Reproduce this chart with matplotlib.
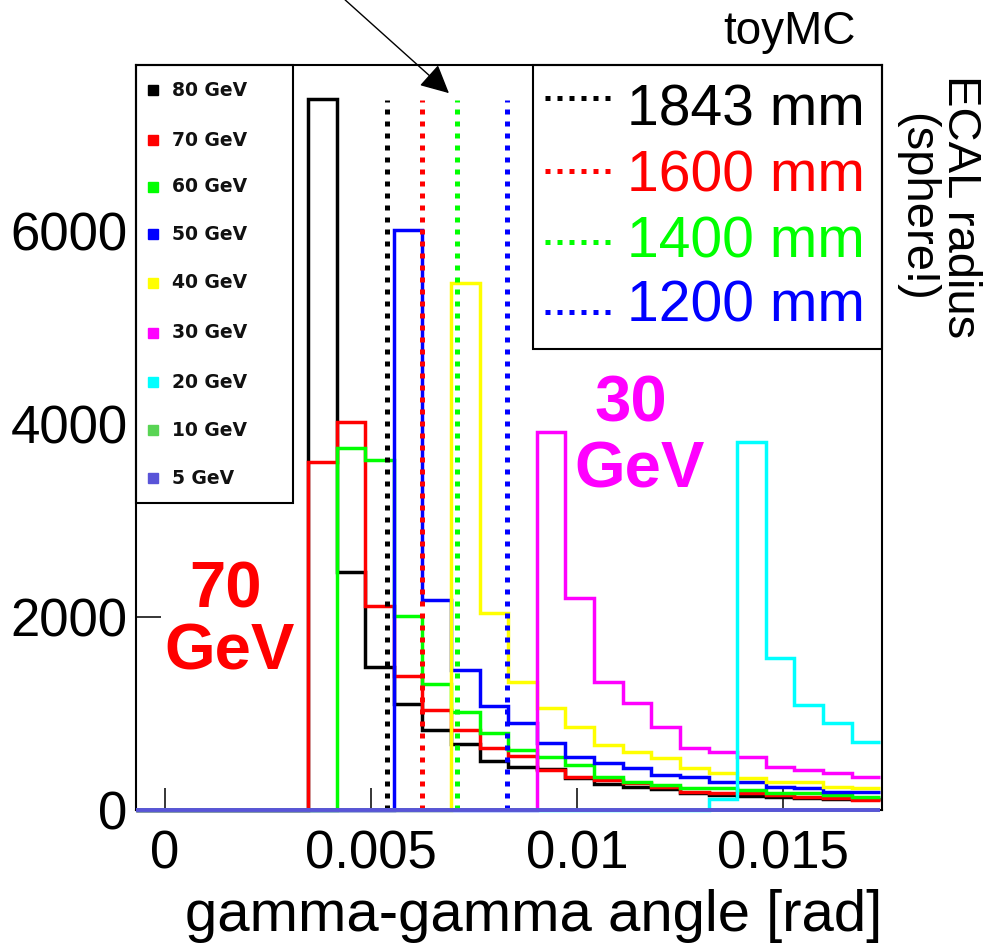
import numpy as np
import matplotlib
matplotlib.use("Agg")
import matplotlib.pyplot as plt
from matplotlib.patches import Rectangle, FancyArrowPatch
from matplotlib.lines import Line2D

# ---------------- data ----------------
BIN_W = 0.025 / 36
bin_edges = np.arange(-1, 26) * BIN_W

energy_labels = ["80 GeV", "70 GeV", "60 GeV", "50 GeV", "40 GeV",
                 "30 GeV", "20 GeV", "10 GeV", "5 GeV"]
energy_colors = ["#000000", "#ff0000", "#00ff00", "#0000ff", "#ffff00",
                 "#ff00ff", "#00ffff", "#59d454", "#5954d8"]

counts_80 = [0, 0, 0, 0, 0, 0, 7368, 2466, 1482, 1098, 829, 684, 508, 446, 430,
             332, 270, 238, 218, 176, 155, 145, 135, 125, 115, 115]
counts_70 = [0, 0, 0, 0, 0, 0, 3606, 4020, 2114, 1389, 1036, 829, 642, 560, 415,
             342, 311, 280, 238, 187, 176, 176, 155, 135, 125, 104]
counts_60 = [0, 0, 0, 0, 0, 0, 0, 3751, 3627, 2010, 1306, 1016, 798, 622, 550,
             466, 342, 290, 259, 228, 228, 207, 176, 176, 155, 135]
counts_50 = [0, 0, 0, 0, 0, 0, 0, 0, 0, 6010, 2176, 1451, 1078, 902, 694,
             549, 487, 435, 363, 342, 290, 290, 238, 228, 187, 187]
counts_40 = [0, 0, 0, 0, 0, 0, 0, 0, 0, 0, 0, 5461, 2041, 1326, 1060,
             860, 674, 601, 539, 435, 383, 332, 290, 290, 238, 228]
counts_30 = [0, 0, 0, 0, 0, 0, 0, 0, 0, 0, 0, 0, 0, 0, 3917,
             2197, 1326, 1109, 860, 642, 601, 549, 446, 415, 383, 342]
counts_20 = [0, 0, 0, 0, 0, 0, 0, 0, 0, 0, 0, 0, 0, 0, 0,
             0, 0, 0, 0, 0, 114, 3813, 1575, 1088, 902, 705]
counts_10 = [0, 0, 0, 0, 0, 0, 0, 0, 0, 0, 0, 0, 0, 0, 0,
             0, 0, 0, 0, 0, 0, 0, 0, 0, 0, 0]
counts_5 = [0, 0, 0, 0, 0, 0, 0, 0, 0, 0, 0, 0, 0, 0, 0,
            0, 0, 0, 0, 0, 0, 0, 0, 0, 0, 0]
all_counts = [counts_80, counts_70, counts_60, counts_50, counts_40,
              counts_30, counts_20, counts_10, counts_5]

radius_labels = ["1843 mm", "1600 mm", "1400 mm", "1200 mm"]
radius_colors = ["#000000", "#ff0000", "#00ff00", "#0000ff"]
radius_angles = [0.00539, 0.00623, 0.00710, 0.00831]
radius_line_top = 7360

x_ticks = [0, 0.005, 0.01, 0.015]
x_tick_labels = ["0", "0.005", "0.01", "0.015"]
y_ticks = [0, 2000, 4000, 6000]
y_tick_labels = ["0", "2000", "4000", "6000"]

# ---------------- figure ----------------
FW, FH = 996, 947
fig = plt.figure(figsize=(FW / 100, FH / 100), dpi=100)
plt.rcParams['font.family'] = ['Liberation Sans', 'DejaVu Sans']


def fx(px):
    return px / FW


def fy(py):
    return 1 - py / FH


ax = fig.add_axes([fx(136), fy(810), (882 - 136) / FW, (810 - 65) / FH])
ax.set_xlim(-0.0007, 0.017403)
ax.set_ylim(0, 7720)

for cnt, col in zip(all_counts, energy_colors):
    is_flat = max(cnt) == 0
    ax.stairs(cnt, bin_edges, baseline=None, color=col,
              lw=2.8 if is_flat else 2.5,
              clip_on=False, zorder=2.7 if is_flat else 2)

dot_style = (0, (1, 1.4))
for xa, col in zip(radius_angles, radius_colors):
    ax.plot([xa, xa], [0, radius_line_top], color=col, lw=3.6,
            ls=dot_style, dash_capstyle='butt', zorder=2.1)

for s in ax.spines.values():
    s.set_linewidth(1.5)
    s.set_color("black")

ax.set_xticks(x_ticks)
ax.set_xticklabels(x_tick_labels)
ax.set_yticks(y_ticks)
ax.set_yticklabels(y_tick_labels)
ax.tick_params(axis='x', direction='in', length=16, width=1.1, labelsize=38,
               pad=14)
ax.tick_params(axis='y', direction='in', length=18, width=1.1, labelsize=38,
               pad=6)
ax.minorticks_off()

fig.text(fx(882), fy(916), "gamma-gamma angle [rad]", ha='right', va='center',
         fontsize=41.8)

# left legend (energies)
ax.add_patch(Rectangle((fx(136), fy(503)), fx(293) - fx(136), fy(65) - fy(503),
                       transform=fig.transFigure, facecolor='white',
                       edgecolor='black', lw=1.5, zorder=2.2, clip_on=False))
leg_rows = [90, 140, 187, 234, 283, 333, 382, 430, 478]
for lab, col, yy in zip(energy_labels, energy_colors, leg_rows):
    fig.add_artist(Line2D([fx(153)], [fy(yy)], marker='s', markersize=6.5,
                          color=col, lw=0))
    fig.text(fx(172), fy(yy), lab, ha='left', va='center', fontsize=13.5,
             fontweight='bold', family='DejaVu Sans', color='#111111')

# right legend (radii)
ax.add_patch(Rectangle((fx(533), fy(349)), fx(882) - fx(533), fy(65) - fy(349),
                       transform=fig.transFigure, facecolor='white',
                       edgecolor='black', lw=1.5, zorder=2.2, clip_on=False))
sample_rows = [98, 171, 242, 312]
text_rows = [111, 177, 242, 307]
for lab, col, ys, yt in zip(radius_labels, radius_colors, sample_rows, text_rows):
    fig.add_artist(Line2D([fx(545), fx(614)], [fy(ys), fy(ys)], color=col,
                          lw=3.6, ls=dot_style, dash_capstyle='butt'))
    fig.text(fx(627), fy(yt), lab, ha='left', va='center', fontsize=41,
             color=col)

fig.text(fx(960), fy(207), "ECAL radius", rotation=-90, ha='center',
         va='center', fontsize=34)
fig.text(fx(916), fy(207), "(sphere!)", rotation=-90, ha='center',
         va='center', fontsize=34)
fig.text(fx(789), fy(32), "toyMC", ha='center', va='center', fontsize=33)

fig.text(fx(225), fy(590), "70", ha='center', va='center', fontsize=47,
         fontweight='bold', color='#ff0000')
fig.text(fx(230), fy(652), "GeV", ha='center', va='center', fontsize=47,
         fontweight='bold', color='#ff0000')
fig.text(fx(631), fy(405), "30", ha='center', va='center', fontsize=47,
         fontweight='bold', color='#ff00ff')
fig.text(fx(640), fy(470), "GeV", ha='center', va='center', fontsize=47,
         fontweight='bold', color='#ff00ff')

fig.add_artist(FancyArrowPatch((fx(343), fy(-2)), (fx(451), fy(95)),
                               transform=fig.transFigure, arrowstyle='-|>',
                               mutation_scale=44, lw=1.0, color='black'))

fig.savefig("out.png", dpi=100)
